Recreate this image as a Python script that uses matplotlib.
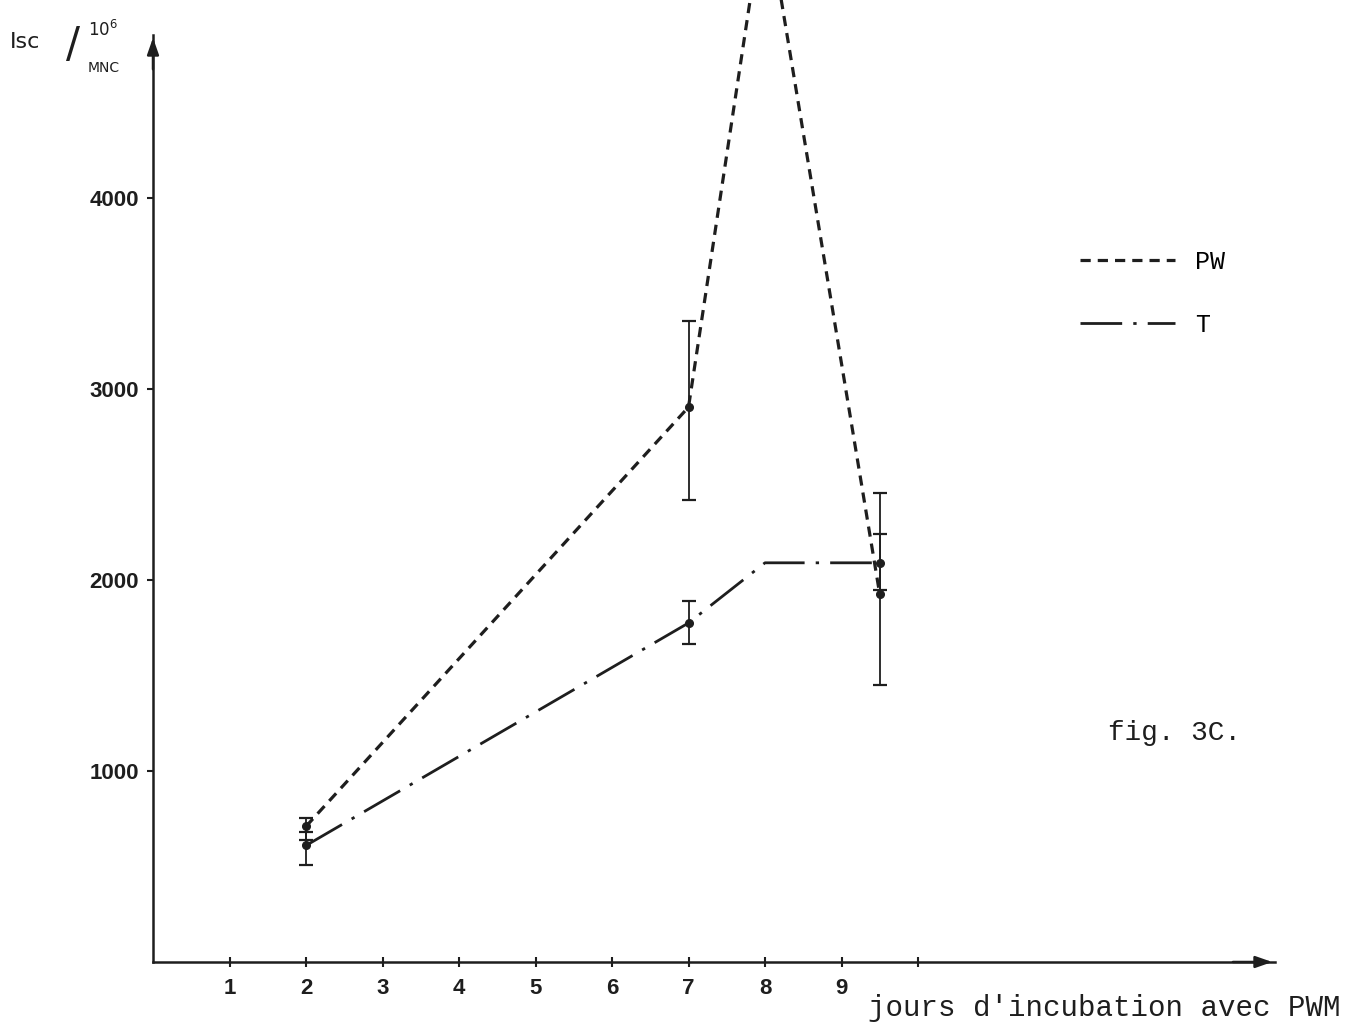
import numpy as np
import matplotlib
matplotlib.use('Agg')
import matplotlib.pyplot as plt

# ISC per 10^6 MNC versus days of incubation with PWM
days = [2, 7, 8, 9.5]
isc_pw = [710, 2905, 5550, 1925]
isc_t = [610, 1775, 2090, 2090]

# error bars (low, high); None where no bar is drawn
pw_low = [640, 2420, None, 1450]
pw_high = [755, 3355, None, 2455]
t_low = [510, 1665, None, 1950]
t_high = [680, 1890, None, 2240]

xticks = [1, 2, 3, 4, 5, 6, 7, 8, 9, 10]
xticklabels = ['1', '2', '3', '4', '5', '6', '7', '8', '9', '']
yticks = [1000, 2000, 3000, 4000]

ink = '#1e1e1e'
mono = 'Liberation Mono'

fig = plt.figure(figsize=(13.49, 10.25), dpi=100)
ax = fig.add_axes([153/1349, 1 - 962/1025, (1275-153)/1349, (962-35)/1025])
ax.set_xlim(0, (1275-153)/76.5)
ax.set_ylim(0, (962-35)/191*1000)


def bars(low, high, vals):
    keep = [i for i in range(len(days)) if low[i] is not None]
    x = [days[i] for i in keep]
    y = [vals[i] for i in keep]
    err = [[vals[i]-low[i] for i in keep], [high[i]-vals[i] for i in keep]]
    return x, y, err


pw_line, = ax.plot(days, isc_pw, color=ink, lw=2.3, dashes=(3.2, 2.2),
                   clip_on=False, label='PW')
t_line, = ax.plot(days, isc_t, color=ink, lw=2.0, dashes=(15, 4, 1.2, 4),
                  clip_on=False, label='T')

for low, high, vals in [(pw_low, pw_high, isc_pw), (t_low, t_high, isc_t)]:
    x, y, err = bars(low, high, vals)
    ax.errorbar(x, y, yerr=err, fmt='o', color=ink, ms=5.5, elinewidth=1.3,
                capsize=5, capthick=1.6, zorder=3)

for s in ['top', 'right']:
    ax.spines[s].set_visible(False)
for s in ['left', 'bottom']:
    ax.spines[s].set_linewidth(1.8)
    ax.spines[s].set_color(ink)

ax.set_xticks(xticks)
ax.set_xticklabels(xticklabels)
ax.set_yticks(yticks)
ax.tick_params(axis='x', direction='inout', length=7, width=1.5, pad=8, colors=ink)
ax.tick_params(axis='y', direction='out', length=4, width=1.5, pad=6, colors=ink)
for lab in ax.get_xticklabels() + ax.get_yticklabels():
    lab.set_fontfamily('Liberation Sans')
    lab.set_fontweight('bold')
    lab.set_fontsize(16)

# axis arrows
ax.annotate('', xy=(0, 1.0), xytext=(0, 0.96), xycoords='axes fraction',
            arrowprops=dict(arrowstyle='-|>,head_length=1.0,head_width=0.35',
                            color=ink, lw=1.8))
ax.annotate('', xy=(1.0, 0), xytext=(0.96, 0), xycoords='axes fraction',
            arrowprops=dict(arrowstyle='-|>,head_length=1.0,head_width=0.35',
                            color=ink, lw=1.8))

# y label, hand written in original
fig.text(10/1349, 1 - 42/1025, 'Isc', fontsize=16, color=ink, va='center')
fig.text(66/1349, 1 - 45/1025, '/', fontsize=30, color=ink, va='center')
fig.text(88/1349, 1 - 30/1025, r'10$^6$', fontsize=12, color=ink, va='center')
fig.text(88/1349, 1 - 68/1025, 'MNC', fontsize=10, color=ink, va='center')

ax.legend(handles=[pw_line, t_line], loc='upper left',
          bbox_to_anchor=(1080/1349, 1 - 250/1025), bbox_transform=fig.transFigure,
          frameon=False, prop={'family': mono, 'size': 18}, handlelength=3.8,
          handletextpad=0.8, labelspacing=1.55, borderpad=0, borderaxespad=0)

fig.text(1108/1349, 1 - 733/1025, 'fig. 3C.', fontfamily=mono, fontsize=20,
         color=ink, va='center')
fig.text(1340/1349, 1 - 1008/1025, "jours d'incubation avec PWM", fontfamily=mono,
         fontsize=21, color=ink, va='center', ha='right')

fig.savefig('out.png', dpi=100, facecolor='white')
